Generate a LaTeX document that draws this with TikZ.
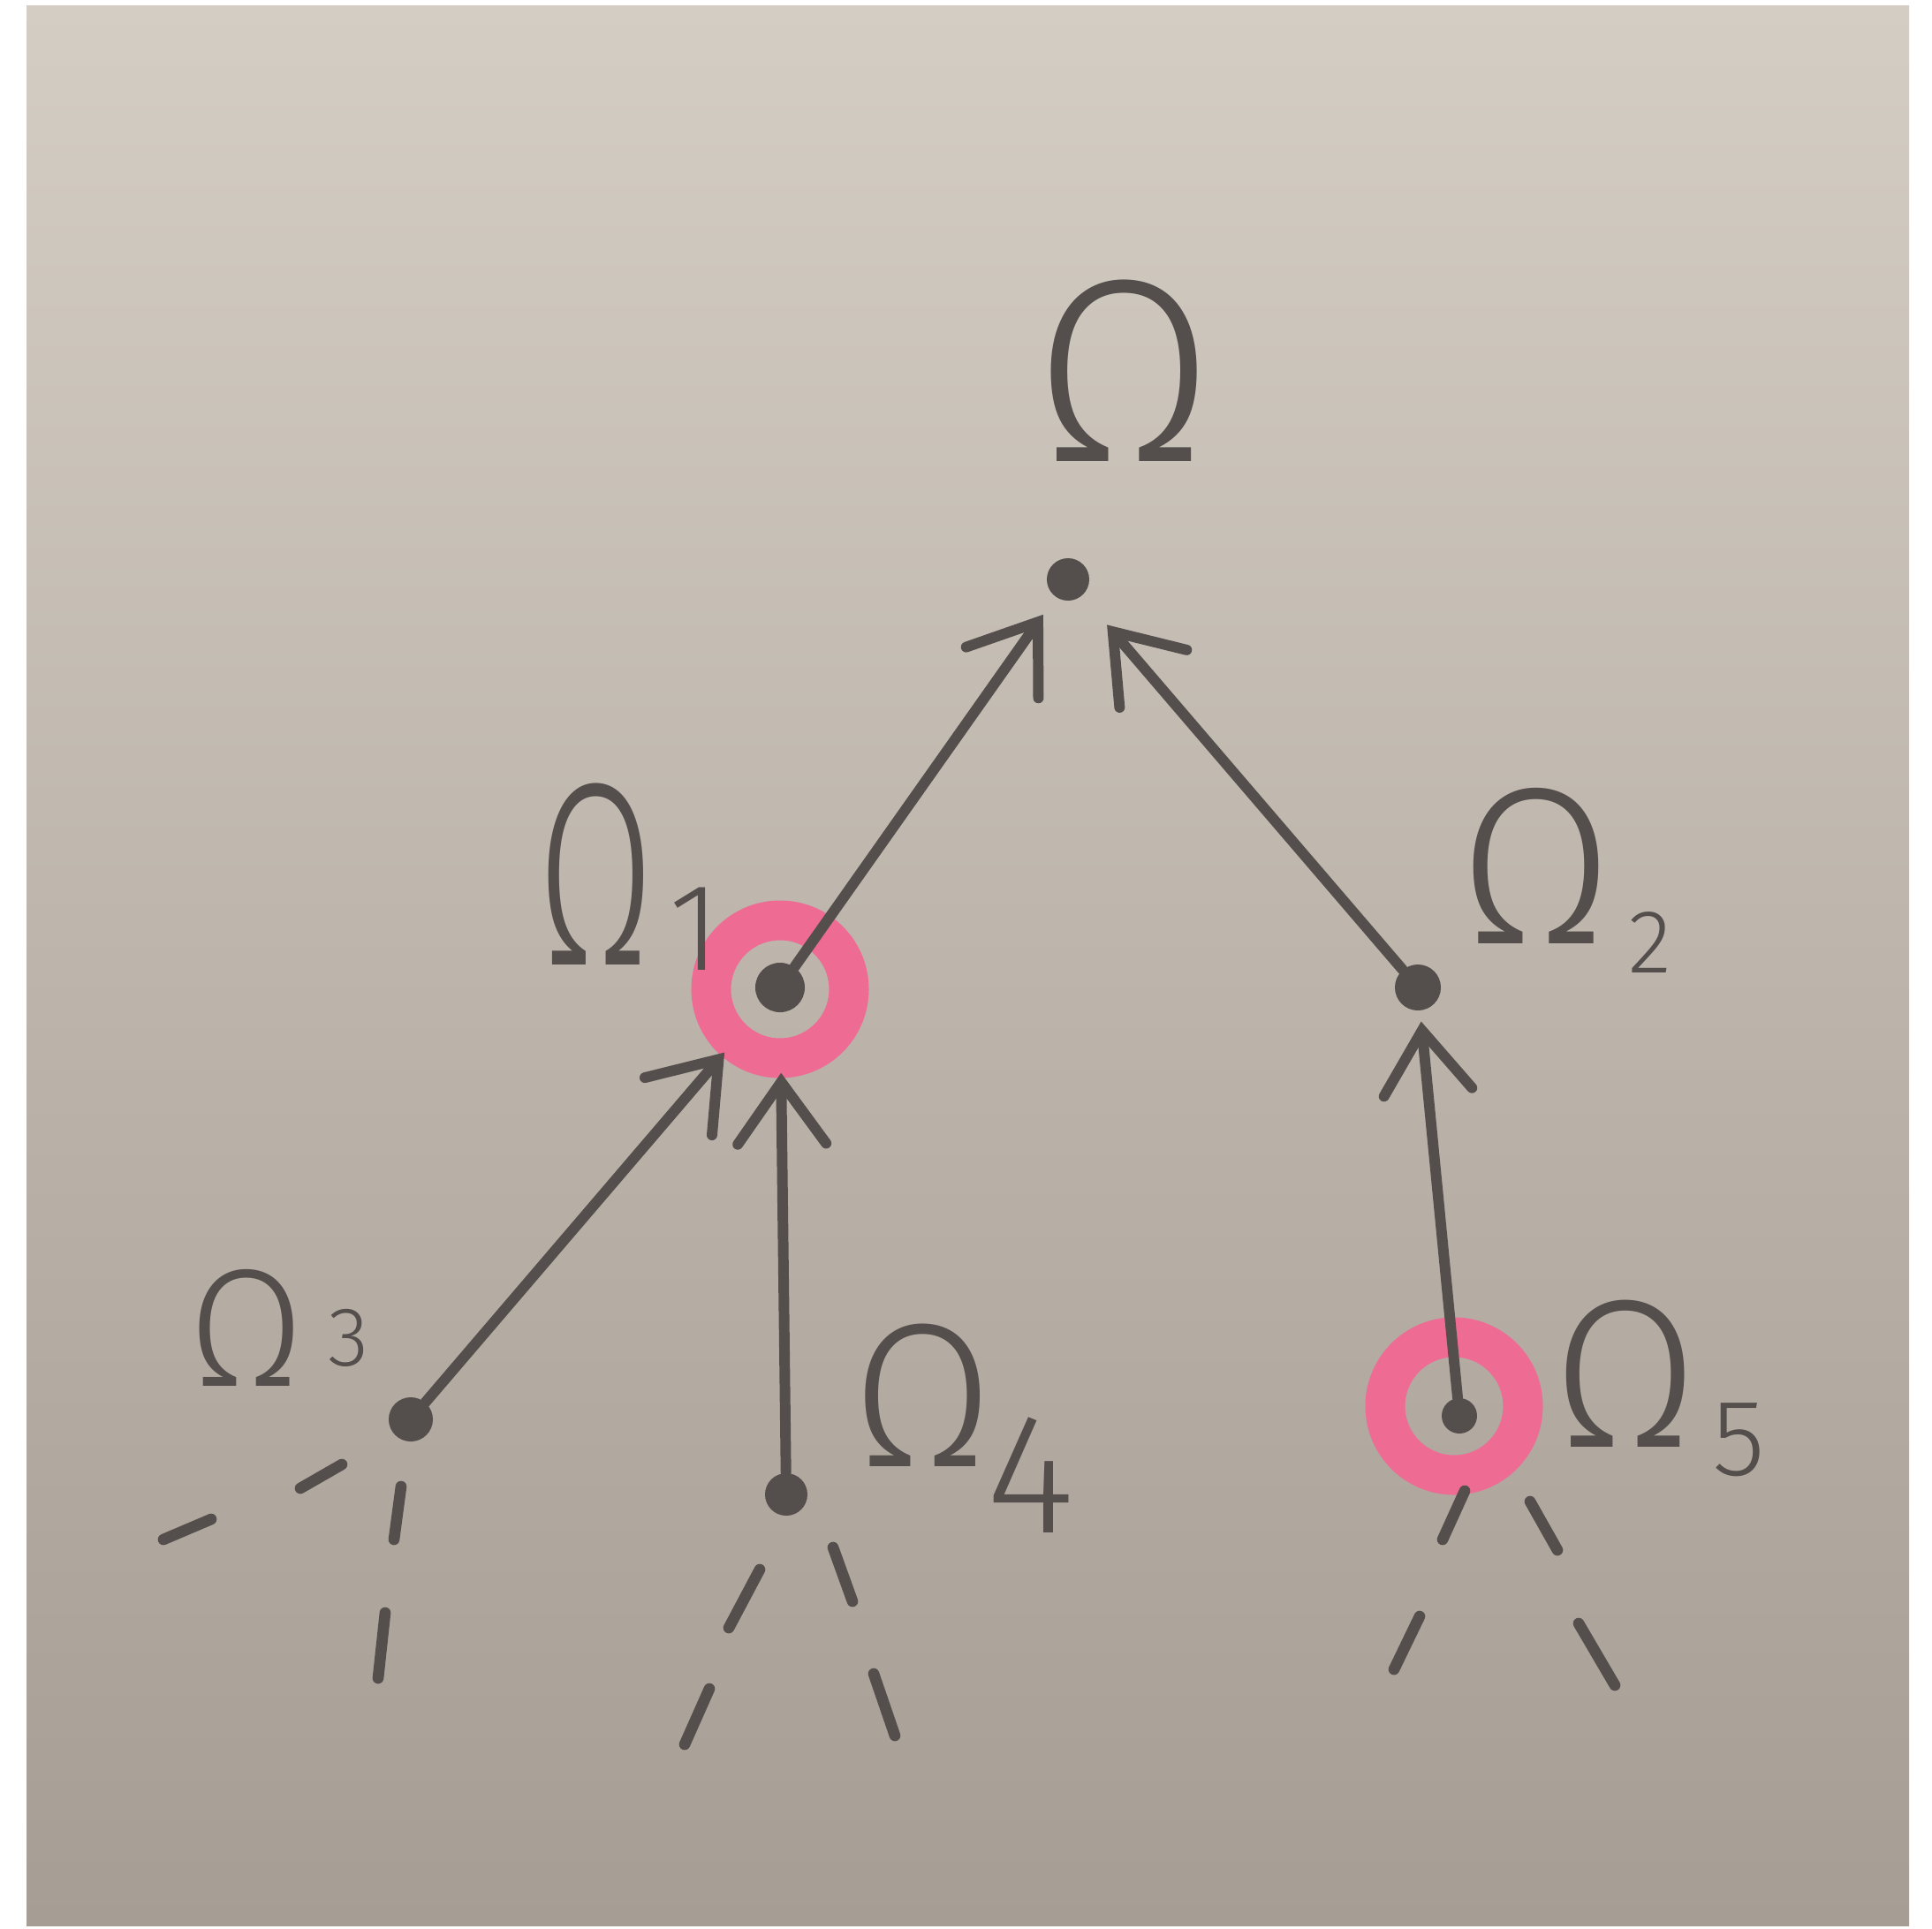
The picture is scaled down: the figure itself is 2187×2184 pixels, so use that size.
\documentclass[tikz,border=0pt]{standalone}
\usepackage{fontspec}
\usetikzlibrary{arrows.meta}
\newfontfamily\handfont{Fira Sans Light}
\definecolor{ink}{RGB}{84,79,76}
\definecolor{marker}{RGB}{238,108,148}
\definecolor{papertop}{RGB}{212,205,196}
\definecolor{papermid}{RGB}{194,186,176}
\definecolor{paperbot}{RGB}{166,157,148}
\begin{document}
\begin{tikzpicture}[x=0.01cm,y=-0.01cm,
  vertex/.style={circle,fill=ink,inner sep=0pt,minimum size=0.48cm},
  ring/.style={draw=marker,line width=0.45cm},
  edge/.style={draw=ink,line width=3.4pt,line cap=round,
    -{Straight Barb[length=0.7cm,width=1cm,line cap=round]}},
  stub/.style={draw=ink,line width=3.6pt,line cap=round},
  omega/.style={text=ink,inner sep=0pt},
]
\useasboundingbox (0,0) rectangle (2187,2184);
\fill[white] (0,0) rectangle (2187,2184);
% paper
\shade[top color=papertop,middle color=papermid,bottom color=paperbot]
  (30,6) rectangle (2161,2180);

% highlighter rings
\draw[ring] (883,1120) circle[radius=78];
\draw[ring] (1646,1592) circle[radius=78];

% vertices
\node[vertex] (root) at (1209,656) {};
\node[vertex,minimum size=0.56cm] (n1) at (883,1118) {};
\node[vertex,minimum size=0.52cm] (n2) at (1605,1118) {};
\node[vertex,minimum size=0.50cm] (n3) at (465,1607) {};
\node[vertex] (n4) at (890,1692) {};
\node[vertex,minimum size=0.40cm] (n5) at (1652,1603) {};

% edges
\draw[edge,shorten >=0.24cm] (n1) -- (root);
\draw[edge,shorten >=0.43cm] (n2) -- (root);
\draw[edge,shorten >=0.68cm] (n3) -- (n1);
\draw[edge,shorten >=0.68cm] (n4) -- (n1);
\draw[edge,shorten >=0.12cm] (n5) -- (n2);

% continuation stubs
\draw[stub] (185,1743) -- (239,1720);
\draw[stub] (340,1685) -- (387,1658);
\draw[stub] (454,1683) -- (446,1743);
\draw[stub] (436,1826) -- (428,1900);
\draw[stub] (860,1777) -- (825,1843);
\draw[stub] (803,1912) -- (775,1975);
\draw[stub] (943,1752) -- (965,1813);
\draw[stub] (989,1895) -- (1013,1965);
\draw[stub] (1658,1688) -- (1633,1743);
\draw[stub] (1607,1830) -- (1578,1890);
\draw[stub] (1732,1700) -- (1763,1755);
\draw[stub] (1787,1838) -- (1828,1908);

% labels
\node[omega,font=\handfont\fontsize{84}{84}\selectfont] (lab0) at (1273,420) {Ω};
\node[omega,xscale=0.65,font=\handfont\fontsize{84}{84}\selectfont] (lab1) at (675,990) {Ω};
\node[omega,font=\handfont\fontsize{40}{40}\selectfont] (d1) at (787,1052) {1};
\node[omega,font=\handfont\fontsize{72}{72}\selectfont] (lab2) at (1739,980) {Ω};
\node[omega,font=\handfont\fontsize{29}{29}\selectfont] (d2) at (1868,1067) {2};
\node[omega,font=\handfont\fontsize{54}{54}\selectfont] (lab3) at (279,1503) {Ω};
\node[omega,font=\handfont\fontsize{27}{27}\selectfont] (d3) at (395,1515) {3};
\node[omega,font=\handfont\fontsize{66}{66}\selectfont] (lab4) at (1045,1580) {Ω};
\node[omega,font=\handfont\fontsize{55}{55}\selectfont] (d4) at (1167,1670) {4};
\node[omega,font=\handfont\fontsize{68}{68}\selectfont] (lab5) at (1840,1555) {Ω};
\node[omega,font=\handfont\fontsize{35}{35}\selectfont] (d5) at (1968,1630) {5};
\end{tikzpicture}
\end{document}
